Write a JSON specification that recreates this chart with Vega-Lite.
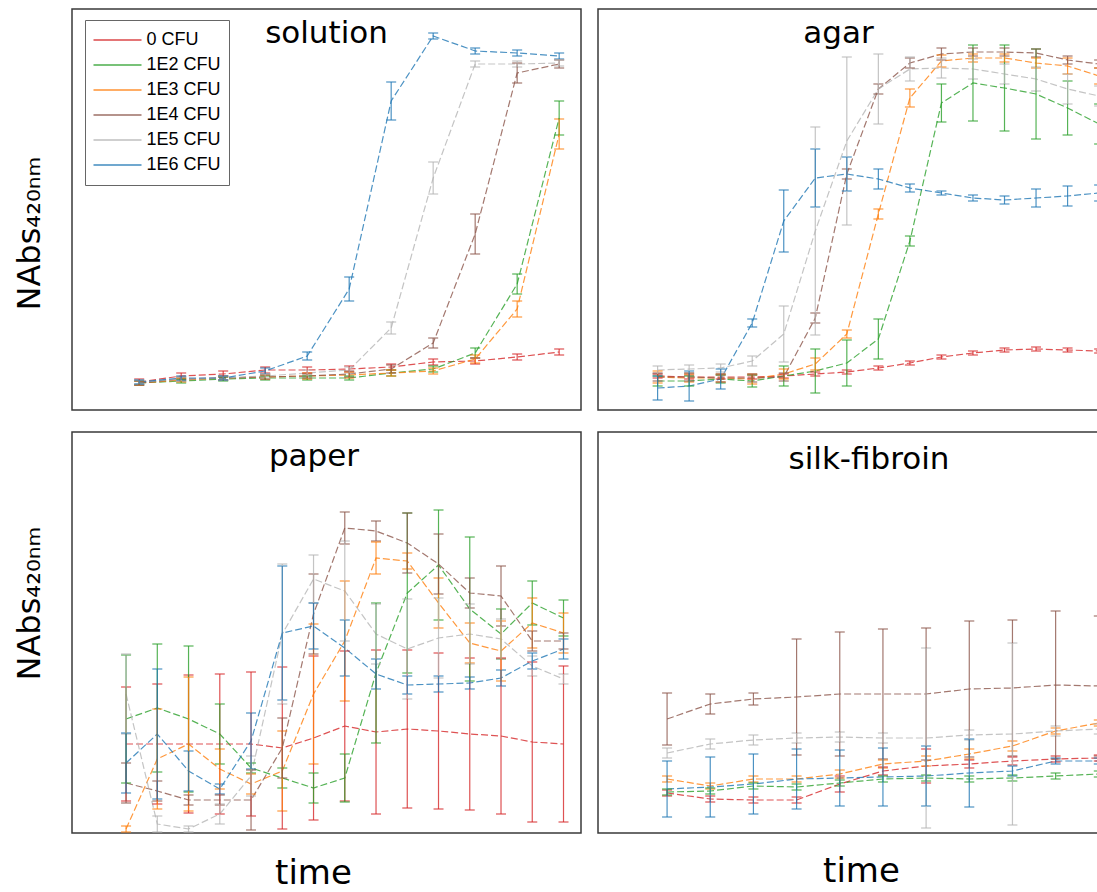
{
"$schema": "https://vega.github.io/schema/vega-lite/v6.json",
"background": "white",
"padding": {"left": 12, "top": 8, "right": 0, "bottom": 0},
"columns": 2,
"spacing": {"row": 22, "column": 17},
"bounds": "flush",
"resolve": {"scale": {"x": "independent", "y": "independent", "color": "independent"}, "axis": {"x": "independent", "y": "independent"}, "legend": {"color": "independent"}},
"data": {"values": [
{"panel":"solution","cfu":"0 CFU","t":0,"nabs":28,"err":3},{"panel":"solution","cfu":"0 CFU","t":1,"nabs":34,"err":3},{"panel":"solution","cfu":"0 CFU","t":2,"nabs":36,"err":3},{"panel":"solution","cfu":"0 CFU","t":3,"nabs":40,"err":3},{"panel":"solution","cfu":"0 CFU","t":4,"nabs":40,"err":3},{"panel":"solution","cfu":"0 CFU","t":5,"nabs":41,"err":3},{"panel":"solution","cfu":"0 CFU","t":6,"nabs":43,"err":3},{"panel":"solution","cfu":"0 CFU","t":7,"nabs":48,"err":3},{"panel":"solution","cfu":"0 CFU","t":8,"nabs":49,"err":3},{"panel":"solution","cfu":"0 CFU","t":9,"nabs":53,"err":3},{"panel":"solution","cfu":"0 CFU","t":10,"nabs":58,"err":3},
{"panel":"solution","cfu":"1E2 CFU","t":0,"nabs":27,"err":2},{"panel":"solution","cfu":"1E2 CFU","t":1,"nabs":29,"err":2},{"panel":"solution","cfu":"1E2 CFU","t":2,"nabs":31,"err":2},{"panel":"solution","cfu":"1E2 CFU","t":3,"nabs":32,"err":2},{"panel":"solution","cfu":"1E2 CFU","t":4,"nabs":32,"err":2},{"panel":"solution","cfu":"1E2 CFU","t":5,"nabs":32,"err":2},{"panel":"solution","cfu":"1E2 CFU","t":6,"nabs":37,"err":3},{"panel":"solution","cfu":"1E2 CFU","t":7,"nabs":41,"err":3},{"panel":"solution","cfu":"1E2 CFU","t":8,"nabs":57,"err":5},{"panel":"solution","cfu":"1E2 CFU","t":9,"nabs":126,"err":10},{"panel":"solution","cfu":"1E2 CFU","t":10,"nabs":292,"err":17},
{"panel":"solution","cfu":"1E3 CFU","t":0,"nabs":27,"err":2},{"panel":"solution","cfu":"1E3 CFU","t":1,"nabs":30,"err":2},{"panel":"solution","cfu":"1E3 CFU","t":2,"nabs":32,"err":2},{"panel":"solution","cfu":"1E3 CFU","t":3,"nabs":33,"err":2},{"panel":"solution","cfu":"1E3 CFU","t":4,"nabs":34,"err":3},{"panel":"solution","cfu":"1E3 CFU","t":5,"nabs":35,"err":3},{"panel":"solution","cfu":"1E3 CFU","t":6,"nabs":37,"err":3},{"panel":"solution","cfu":"1E3 CFU","t":7,"nabs":39,"err":3},{"panel":"solution","cfu":"1E3 CFU","t":8,"nabs":51,"err":4},{"panel":"solution","cfu":"1E3 CFU","t":9,"nabs":101,"err":8},{"panel":"solution","cfu":"1E3 CFU","t":10,"nabs":276,"err":15},
{"panel":"solution","cfu":"1E4 CFU","t":0,"nabs":27,"err":2},{"panel":"solution","cfu":"1E4 CFU","t":1,"nabs":31,"err":2},{"panel":"solution","cfu":"1E4 CFU","t":2,"nabs":32,"err":2},{"panel":"solution","cfu":"1E4 CFU","t":3,"nabs":33,"err":2},{"panel":"solution","cfu":"1E4 CFU","t":4,"nabs":34,"err":2},{"panel":"solution","cfu":"1E4 CFU","t":5,"nabs":36,"err":3},{"panel":"solution","cfu":"1E4 CFU","t":6,"nabs":41,"err":4},{"panel":"solution","cfu":"1E4 CFU","t":7,"nabs":67,"err":5},{"panel":"solution","cfu":"1E4 CFU","t":8,"nabs":176,"err":20},{"panel":"solution","cfu":"1E4 CFU","t":9,"nabs":337,"err":10},{"panel":"solution","cfu":"1E4 CFU","t":10,"nabs":346,"err":4},
{"panel":"solution","cfu":"1E5 CFU","t":0,"nabs":28,"err":2},{"panel":"solution","cfu":"1E5 CFU","t":1,"nabs":31,"err":2},{"panel":"solution","cfu":"1E5 CFU","t":2,"nabs":32,"err":2},{"panel":"solution","cfu":"1E5 CFU","t":3,"nabs":34,"err":2},{"panel":"solution","cfu":"1E5 CFU","t":4,"nabs":37,"err":3},{"panel":"solution","cfu":"1E5 CFU","t":5,"nabs":40,"err":3},{"panel":"solution","cfu":"1E5 CFU","t":6,"nabs":82,"err":6},{"panel":"solution","cfu":"1E5 CFU","t":7,"nabs":232,"err":16},{"panel":"solution","cfu":"1E5 CFU","t":8,"nabs":346,"err":3},{"panel":"solution","cfu":"1E5 CFU","t":9,"nabs":346,"err":3},{"panel":"solution","cfu":"1E5 CFU","t":10,"nabs":347,"err":3},
{"panel":"solution","cfu":"1E6 CFU","t":0,"nabs":28,"err":2},{"panel":"solution","cfu":"1E6 CFU","t":1,"nabs":32,"err":2},{"panel":"solution","cfu":"1E6 CFU","t":2,"nabs":32,"err":2},{"panel":"solution","cfu":"1E6 CFU","t":3,"nabs":39,"err":3},{"panel":"solution","cfu":"1E6 CFU","t":4,"nabs":54,"err":4},{"panel":"solution","cfu":"1E6 CFU","t":5,"nabs":121,"err":12},{"panel":"solution","cfu":"1E6 CFU","t":6,"nabs":309,"err":19},{"panel":"solution","cfu":"1E6 CFU","t":7,"nabs":374,"err":3},{"panel":"solution","cfu":"1E6 CFU","t":8,"nabs":359,"err":3},{"panel":"solution","cfu":"1E6 CFU","t":9,"nabs":357,"err":3},{"panel":"solution","cfu":"1E6 CFU","t":10,"nabs":354,"err":3},

{"panel":"agar","cfu":"0 CFU","t":0,"nabs":34,"err":2},{"panel":"agar","cfu":"0 CFU","t":1,"nabs":33,"err":2},{"panel":"agar","cfu":"0 CFU","t":2,"nabs":33,"err":2},{"panel":"agar","cfu":"0 CFU","t":3,"nabs":33,"err":2},{"panel":"agar","cfu":"0 CFU","t":4,"nabs":34,"err":2},{"panel":"agar","cfu":"0 CFU","t":5,"nabs":36,"err":2},{"panel":"agar","cfu":"0 CFU","t":6,"nabs":38,"err":2},{"panel":"agar","cfu":"0 CFU","t":7,"nabs":42,"err":2},{"panel":"agar","cfu":"0 CFU","t":8,"nabs":47,"err":2},{"panel":"agar","cfu":"0 CFU","t":9,"nabs":53,"err":2},{"panel":"agar","cfu":"0 CFU","t":10,"nabs":57,"err":2},{"panel":"agar","cfu":"0 CFU","t":11,"nabs":60,"err":2},{"panel":"agar","cfu":"0 CFU","t":12,"nabs":61,"err":2},{"panel":"agar","cfu":"0 CFU","t":13,"nabs":60,"err":2},{"panel":"agar","cfu":"0 CFU","t":14,"nabs":59,"err":2},
{"panel":"agar","cfu":"1E2 CFU","t":0,"nabs":29,"err":5},{"panel":"agar","cfu":"1E2 CFU","t":1,"nabs":29,"err":5},{"panel":"agar","cfu":"1E2 CFU","t":2,"nabs":31,"err":4},{"panel":"agar","cfu":"1E2 CFU","t":3,"nabs":29,"err":6},{"panel":"agar","cfu":"1E2 CFU","t":4,"nabs":34,"err":10},{"panel":"agar","cfu":"1E2 CFU","t":5,"nabs":39,"err":22},{"panel":"agar","cfu":"1E2 CFU","t":6,"nabs":47,"err":23},{"panel":"agar","cfu":"1E2 CFU","t":7,"nabs":71,"err":20},{"panel":"agar","cfu":"1E2 CFU","t":8,"nabs":169,"err":5},{"panel":"agar","cfu":"1E2 CFU","t":9,"nabs":307,"err":19},{"panel":"agar","cfu":"1E2 CFU","t":10,"nabs":327,"err":38},{"panel":"agar","cfu":"1E2 CFU","t":11,"nabs":322,"err":43},{"panel":"agar","cfu":"1E2 CFU","t":12,"nabs":316,"err":45},{"panel":"agar","cfu":"1E2 CFU","t":13,"nabs":302,"err":27},{"panel":"agar","cfu":"1E2 CFU","t":14,"nabs":286,"err":20},
{"panel":"agar","cfu":"1E3 CFU","t":0,"nabs":33,"err":6},{"panel":"agar","cfu":"1E3 CFU","t":1,"nabs":32,"err":4},{"panel":"agar","cfu":"1E3 CFU","t":2,"nabs":32,"err":4},{"panel":"agar","cfu":"1E3 CFU","t":3,"nabs":31,"err":5},{"panel":"agar","cfu":"1E3 CFU","t":4,"nabs":36,"err":5},{"panel":"agar","cfu":"1E3 CFU","t":5,"nabs":46,"err":6},{"panel":"agar","cfu":"1E3 CFU","t":6,"nabs":76,"err":4},{"panel":"agar","cfu":"1E3 CFU","t":7,"nabs":196,"err":5},{"panel":"agar","cfu":"1E3 CFU","t":8,"nabs":312,"err":9},{"panel":"agar","cfu":"1E3 CFU","t":9,"nabs":349,"err":6},{"panel":"agar","cfu":"1E3 CFU","t":10,"nabs":352,"err":4},{"panel":"agar","cfu":"1E3 CFU","t":11,"nabs":352,"err":4},{"panel":"agar","cfu":"1E3 CFU","t":12,"nabs":347,"err":5},{"panel":"agar","cfu":"1E3 CFU","t":13,"nabs":344,"err":8},{"panel":"agar","cfu":"1E3 CFU","t":14,"nabs":334,"err":8},
{"panel":"agar","cfu":"1E4 CFU","t":0,"nabs":33,"err":4},{"panel":"agar","cfu":"1E4 CFU","t":1,"nabs":33,"err":4},{"panel":"agar","cfu":"1E4 CFU","t":2,"nabs":32,"err":4},{"panel":"agar","cfu":"1E4 CFU","t":3,"nabs":32,"err":4},{"panel":"agar","cfu":"1E4 CFU","t":4,"nabs":33,"err":4},{"panel":"agar","cfu":"1E4 CFU","t":5,"nabs":92,"err":5},{"panel":"agar","cfu":"1E4 CFU","t":6,"nabs":236,"err":5},{"panel":"agar","cfu":"1E4 CFU","t":7,"nabs":321,"err":5},{"panel":"agar","cfu":"1E4 CFU","t":8,"nabs":347,"err":5},{"panel":"agar","cfu":"1E4 CFU","t":9,"nabs":356,"err":6},{"panel":"agar","cfu":"1E4 CFU","t":10,"nabs":358,"err":4},{"panel":"agar","cfu":"1E4 CFU","t":11,"nabs":358,"err":4},{"panel":"agar","cfu":"1E4 CFU","t":12,"nabs":357,"err":4},{"panel":"agar","cfu":"1E4 CFU","t":13,"nabs":350,"err":4},{"panel":"agar","cfu":"1E4 CFU","t":14,"nabs":346,"err":4},
{"panel":"agar","cfu":"1E5 CFU","t":0,"nabs":40,"err":4},{"panel":"agar","cfu":"1E5 CFU","t":1,"nabs":41,"err":4},{"panel":"agar","cfu":"1E5 CFU","t":2,"nabs":42,"err":4},{"panel":"agar","cfu":"1E5 CFU","t":3,"nabs":49,"err":5},{"panel":"agar","cfu":"1E5 CFU","t":4,"nabs":76,"err":28},{"panel":"agar","cfu":"1E5 CFU","t":5,"nabs":179,"err":104},{"panel":"agar","cfu":"1E5 CFU","t":6,"nabs":269,"err":84},{"panel":"agar","cfu":"1E5 CFU","t":7,"nabs":321,"err":35},{"panel":"agar","cfu":"1E5 CFU","t":8,"nabs":341,"err":12},{"panel":"agar","cfu":"1E5 CFU","t":9,"nabs":342,"err":10},{"panel":"agar","cfu":"1E5 CFU","t":10,"nabs":341,"err":10},{"panel":"agar","cfu":"1E5 CFU","t":11,"nabs":336,"err":10},{"panel":"agar","cfu":"1E5 CFU","t":12,"nabs":331,"err":12},{"panel":"agar","cfu":"1E5 CFU","t":13,"nabs":321,"err":15},{"panel":"agar","cfu":"1E5 CFU","t":14,"nabs":314,"err":10},
{"panel":"agar","cfu":"1E6 CFU","t":0,"nabs":22,"err":12},{"panel":"agar","cfu":"1E6 CFU","t":1,"nabs":24,"err":15},{"panel":"agar","cfu":"1E6 CFU","t":2,"nabs":31,"err":10},{"panel":"agar","cfu":"1E6 CFU","t":3,"nabs":87,"err":4},{"panel":"agar","cfu":"1E6 CFU","t":4,"nabs":189,"err":31},{"panel":"agar","cfu":"1E6 CFU","t":5,"nabs":232,"err":29},{"panel":"agar","cfu":"1E6 CFU","t":6,"nabs":236,"err":17},{"panel":"agar","cfu":"1E6 CFU","t":7,"nabs":231,"err":10},{"panel":"agar","cfu":"1E6 CFU","t":8,"nabs":222,"err":4},{"panel":"agar","cfu":"1E6 CFU","t":9,"nabs":217,"err":2},{"panel":"agar","cfu":"1E6 CFU","t":10,"nabs":212,"err":3},{"panel":"agar","cfu":"1E6 CFU","t":11,"nabs":210,"err":4},{"panel":"agar","cfu":"1E6 CFU","t":12,"nabs":212,"err":9},{"panel":"agar","cfu":"1E6 CFU","t":13,"nabs":214,"err":10},{"panel":"agar","cfu":"1E6 CFU","t":14,"nabs":217,"err":8},

{"panel":"paper","cfu":"0 CFU","t":0,"nabs":89,"err":57},{"panel":"paper","cfu":"0 CFU","t":1,"nabs":89,"err":60},{"panel":"paper","cfu":"0 CFU","t":2,"nabs":89,"err":69},{"panel":"paper","cfu":"0 CFU","t":3,"nabs":89,"err":70},{"panel":"paper","cfu":"0 CFU","t":4,"nabs":89,"err":72},{"panel":"paper","cfu":"0 CFU","t":5,"nabs":85,"err":81},{"panel":"paper","cfu":"0 CFU","t":6,"nabs":95,"err":82},{"panel":"paper","cfu":"0 CFU","t":7,"nabs":107,"err":75},{"panel":"paper","cfu":"0 CFU","t":8,"nabs":101,"err":82},{"panel":"paper","cfu":"0 CFU","t":9,"nabs":104,"err":79},{"panel":"paper","cfu":"0 CFU","t":10,"nabs":102,"err":78},{"panel":"paper","cfu":"0 CFU","t":11,"nabs":99,"err":76},{"panel":"paper","cfu":"0 CFU","t":12,"nabs":97,"err":78},{"panel":"paper","cfu":"0 CFU","t":13,"nabs":91,"err":80},{"panel":"paper","cfu":"0 CFU","t":14,"nabs":89,"err":78},
{"panel":"paper","cfu":"1E2 CFU","t":0,"nabs":114,"err":64},{"panel":"paper","cfu":"1E2 CFU","t":1,"nabs":125,"err":64},{"panel":"paper","cfu":"1E2 CFU","t":2,"nabs":114,"err":73},{"panel":"paper","cfu":"1E2 CFU","t":3,"nabs":99,"err":30},{"panel":"paper","cfu":"1E2 CFU","t":4,"nabs":65,"err":5},{"panel":"paper","cfu":"1E2 CFU","t":5,"nabs":55,"err":10},{"panel":"paper","cfu":"1E2 CFU","t":6,"nabs":45,"err":15},{"panel":"paper","cfu":"1E2 CFU","t":7,"nabs":55,"err":24},{"panel":"paper","cfu":"1E2 CFU","t":8,"nabs":160,"err":70},{"panel":"paper","cfu":"1E2 CFU","t":9,"nabs":240,"err":80},{"panel":"paper","cfu":"1E2 CFU","t":10,"nabs":268,"err":55},{"panel":"paper","cfu":"1E2 CFU","t":11,"nabs":224,"err":72},{"panel":"paper","cfu":"1E2 CFU","t":12,"nabs":199,"err":25},{"panel":"paper","cfu":"1E2 CFU","t":13,"nabs":230,"err":22},{"panel":"paper","cfu":"1E2 CFU","t":14,"nabs":215,"err":18},
{"panel":"paper","cfu":"1E3 CFU","t":0,"nabs":4,"err":3},{"panel":"paper","cfu":"1E3 CFU","t":1,"nabs":74,"err":50},{"panel":"paper","cfu":"1E3 CFU","t":2,"nabs":89,"err":67},{"panel":"paper","cfu":"1E3 CFU","t":3,"nabs":64,"err":20},{"panel":"paper","cfu":"1E3 CFU","t":4,"nabs":49,"err":10},{"panel":"paper","cfu":"1E3 CFU","t":5,"nabs":62,"err":40},{"panel":"paper","cfu":"1E3 CFU","t":6,"nabs":139,"err":70},{"panel":"paper","cfu":"1E3 CFU","t":7,"nabs":192,"err":60},{"panel":"paper","cfu":"1E3 CFU","t":8,"nabs":275,"err":16},{"panel":"paper","cfu":"1E3 CFU","t":9,"nabs":272,"err":8},{"panel":"paper","cfu":"1E3 CFU","t":10,"nabs":230,"err":25},{"panel":"paper","cfu":"1E3 CFU","t":11,"nabs":190,"err":20},{"panel":"paper","cfu":"1E3 CFU","t":12,"nabs":182,"err":30},{"panel":"paper","cfu":"1E3 CFU","t":13,"nabs":210,"err":25},{"panel":"paper","cfu":"1E3 CFU","t":14,"nabs":200,"err":20},
{"panel":"paper","cfu":"1E4 CFU","t":0,"nabs":50,"err":20},{"panel":"paper","cfu":"1E4 CFU","t":1,"nabs":42,"err":10},{"panel":"paper","cfu":"1E4 CFU","t":2,"nabs":33,"err":5},{"panel":"paper","cfu":"1E4 CFU","t":3,"nabs":33,"err":5},{"panel":"paper","cfu":"1E4 CFU","t":4,"nabs":33,"err":30},{"panel":"paper","cfu":"1E4 CFU","t":5,"nabs":85,"err":30},{"panel":"paper","cfu":"1E4 CFU","t":6,"nabs":219,"err":40},{"panel":"paper","cfu":"1E4 CFU","t":7,"nabs":305,"err":16},{"panel":"paper","cfu":"1E4 CFU","t":8,"nabs":302,"err":10},{"panel":"paper","cfu":"1E4 CFU","t":9,"nabs":290,"err":30},{"panel":"paper","cfu":"1E4 CFU","t":10,"nabs":269,"err":30},{"panel":"paper","cfu":"1E4 CFU","t":11,"nabs":240,"err":15},{"panel":"paper","cfu":"1E4 CFU","t":12,"nabs":237,"err":30},{"panel":"paper","cfu":"1E4 CFU","t":13,"nabs":192,"err":10},{"panel":"paper","cfu":"1E4 CFU","t":14,"nabs":192,"err":8},
{"panel":"paper","cfu":"1E5 CFU","t":0,"nabs":139,"err":40},{"panel":"paper","cfu":"1E5 CFU","t":1,"nabs":9,"err":8},{"panel":"paper","cfu":"1E5 CFU","t":2,"nabs":4,"err":3},{"panel":"paper","cfu":"1E5 CFU","t":3,"nabs":19,"err":10},{"panel":"paper","cfu":"1E5 CFU","t":4,"nabs":57,"err":20},{"panel":"paper","cfu":"1E5 CFU","t":5,"nabs":199,"err":70},{"panel":"paper","cfu":"1E5 CFU","t":6,"nabs":254,"err":24},{"panel":"paper","cfu":"1E5 CFU","t":7,"nabs":242,"err":50},{"panel":"paper","cfu":"1E5 CFU","t":8,"nabs":199,"err":30},{"panel":"paper","cfu":"1E5 CFU","t":9,"nabs":184,"err":50},{"panel":"paper","cfu":"1E5 CFU","t":10,"nabs":195,"err":40},{"panel":"paper","cfu":"1E5 CFU","t":11,"nabs":199,"err":30},{"panel":"paper","cfu":"1E5 CFU","t":12,"nabs":194,"err":20},{"panel":"paper","cfu":"1E5 CFU","t":13,"nabs":167,"err":10},{"panel":"paper","cfu":"1E5 CFU","t":14,"nabs":154,"err":5},
{"panel":"paper","cfu":"1E6 CFU","t":0,"nabs":70,"err":30},{"panel":"paper","cfu":"1E6 CFU","t":1,"nabs":99,"err":65},{"panel":"paper","cfu":"1E6 CFU","t":2,"nabs":62,"err":20},{"panel":"paper","cfu":"1E6 CFU","t":3,"nabs":44,"err":5},{"panel":"paper","cfu":"1E6 CFU","t":4,"nabs":92,"err":28},{"panel":"paper","cfu":"1E6 CFU","t":5,"nabs":200,"err":67},{"panel":"paper","cfu":"1E6 CFU","t":6,"nabs":207,"err":23},{"panel":"paper","cfu":"1E6 CFU","t":7,"nabs":185,"err":28},{"panel":"paper","cfu":"1E6 CFU","t":8,"nabs":159,"err":15},{"panel":"paper","cfu":"1E6 CFU","t":9,"nabs":148,"err":9},{"panel":"paper","cfu":"1E6 CFU","t":10,"nabs":149,"err":8},{"panel":"paper","cfu":"1E6 CFU","t":11,"nabs":150,"err":6},{"panel":"paper","cfu":"1E6 CFU","t":12,"nabs":155,"err":8},{"panel":"paper","cfu":"1E6 CFU","t":13,"nabs":172,"err":8},{"panel":"paper","cfu":"1E6 CFU","t":14,"nabs":184,"err":10},

{"panel":"silk","cfu":"0 CFU","t":0,"nabs":40,"err":3},{"panel":"silk","cfu":"0 CFU","t":1,"nabs":34,"err":3},{"panel":"silk","cfu":"0 CFU","t":2,"nabs":33,"err":3},{"panel":"silk","cfu":"0 CFU","t":3,"nabs":33,"err":3},{"panel":"silk","cfu":"0 CFU","t":4,"nabs":49,"err":8},{"panel":"silk","cfu":"0 CFU","t":5,"nabs":62,"err":4},{"panel":"silk","cfu":"0 CFU","t":6,"nabs":67,"err":17},{"panel":"silk","cfu":"0 CFU","t":7,"nabs":69,"err":4},{"panel":"silk","cfu":"0 CFU","t":8,"nabs":72,"err":4},{"panel":"silk","cfu":"0 CFU","t":9,"nabs":74,"err":3},{"panel":"silk","cfu":"0 CFU","t":10,"nabs":75,"err":3},
{"panel":"silk","cfu":"1E2 CFU","t":0,"nabs":41,"err":3},{"panel":"silk","cfu":"1E2 CFU","t":1,"nabs":42,"err":3},{"panel":"silk","cfu":"1E2 CFU","t":2,"nabs":47,"err":3},{"panel":"silk","cfu":"1E2 CFU","t":3,"nabs":46,"err":3},{"panel":"silk","cfu":"1E2 CFU","t":4,"nabs":50,"err":3},{"panel":"silk","cfu":"1E2 CFU","t":5,"nabs":54,"err":3},{"panel":"silk","cfu":"1E2 CFU","t":6,"nabs":55,"err":3},{"panel":"silk","cfu":"1E2 CFU","t":7,"nabs":54,"err":3},{"panel":"silk","cfu":"1E2 CFU","t":8,"nabs":55,"err":3},{"panel":"silk","cfu":"1E2 CFU","t":9,"nabs":57,"err":3},{"panel":"silk","cfu":"1E2 CFU","t":10,"nabs":59,"err":3},
{"panel":"silk","cfu":"1E3 CFU","t":0,"nabs":54,"err":3},{"panel":"silk","cfu":"1E3 CFU","t":1,"nabs":47,"err":3},{"panel":"silk","cfu":"1E3 CFU","t":2,"nabs":54,"err":3},{"panel":"silk","cfu":"1E3 CFU","t":3,"nabs":54,"err":3},{"panel":"silk","cfu":"1E3 CFU","t":4,"nabs":59,"err":4},{"panel":"silk","cfu":"1E3 CFU","t":5,"nabs":69,"err":4},{"panel":"silk","cfu":"1E3 CFU","t":6,"nabs":72,"err":5},{"panel":"silk","cfu":"1E3 CFU","t":7,"nabs":79,"err":5},{"panel":"silk","cfu":"1E3 CFU","t":8,"nabs":87,"err":5},{"panel":"silk","cfu":"1E3 CFU","t":9,"nabs":102,"err":3},{"panel":"silk","cfu":"1E3 CFU","t":10,"nabs":110,"err":3},
{"panel":"silk","cfu":"1E4 CFU","t":0,"nabs":114,"err":26},{"panel":"silk","cfu":"1E4 CFU","t":1,"nabs":129,"err":10},{"panel":"silk","cfu":"1E4 CFU","t":2,"nabs":134,"err":6},{"panel":"silk","cfu":"1E4 CFU","t":3,"nabs":136,"err":58},{"panel":"silk","cfu":"1E4 CFU","t":4,"nabs":139,"err":62},{"panel":"silk","cfu":"1E4 CFU","t":5,"nabs":139,"err":65},{"panel":"silk","cfu":"1E4 CFU","t":6,"nabs":139,"err":66},{"panel":"silk","cfu":"1E4 CFU","t":7,"nabs":144,"err":68},{"panel":"silk","cfu":"1E4 CFU","t":8,"nabs":145,"err":68},{"panel":"silk","cfu":"1E4 CFU","t":9,"nabs":148,"err":74},{"panel":"silk","cfu":"1E4 CFU","t":10,"nabs":147,"err":70},
{"panel":"silk","cfu":"1E5 CFU","t":0,"nabs":80,"err":5},{"panel":"silk","cfu":"1E5 CFU","t":1,"nabs":89,"err":5},{"panel":"silk","cfu":"1E5 CFU","t":2,"nabs":93,"err":5},{"panel":"silk","cfu":"1E5 CFU","t":3,"nabs":95,"err":5},{"panel":"silk","cfu":"1E5 CFU","t":4,"nabs":96,"err":5},{"panel":"silk","cfu":"1E5 CFU","t":5,"nabs":95,"err":5},{"panel":"silk","cfu":"1E5 CFU","t":6,"nabs":95,"err":90},{"panel":"silk","cfu":"1E5 CFU","t":7,"nabs":98,"err":5},{"panel":"silk","cfu":"1E5 CFU","t":8,"nabs":99,"err":91},{"panel":"silk","cfu":"1E5 CFU","t":9,"nabs":102,"err":5},{"panel":"silk","cfu":"1E5 CFU","t":10,"nabs":104,"err":5},
{"panel":"silk","cfu":"1E6 CFU","t":0,"nabs":44,"err":28},{"panel":"silk","cfu":"1E6 CFU","t":1,"nabs":46,"err":30},{"panel":"silk","cfu":"1E6 CFU","t":2,"nabs":49,"err":30},{"panel":"silk","cfu":"1E6 CFU","t":3,"nabs":54,"err":30},{"panel":"silk","cfu":"1E6 CFU","t":4,"nabs":55,"err":28},{"panel":"silk","cfu":"1E6 CFU","t":5,"nabs":56,"err":29},{"panel":"silk","cfu":"1E6 CFU","t":6,"nabs":57,"err":30},{"panel":"silk","cfu":"1E6 CFU","t":7,"nabs":60,"err":34},{"panel":"silk","cfu":"1E6 CFU","t":8,"nabs":62,"err":5},{"panel":"silk","cfu":"1E6 CFU","t":9,"nabs":72,"err":3},{"panel":"silk","cfu":"1E6 CFU","t":10,"nabs":72,"err":3}
]},
"concat": [
{
 "width": 509, "height": 401,
 "title": {"text": "solution", "dx": 0, "offset": -41},
 "transform": [{"filter": "datum.panel === 'solution'"}],
 "encoding": {
  "x": {"field": "t", "type": "quantitative", "scale": {"domain": [-1.6, 10.52], "nice": false, "zero": false}, "axis": null},
  "y": {"field": "nabs", "type": "quantitative", "scale": {"domain": [0, 401], "nice": false, "zero": false},
        "axis": {"title": "NAbs₄₂₀ₙₘ", "titleFontSize": 32, "titleAngle": 270, "titleAlign": "left", "titleBaseline": "alphabetic", "titleX": -33, "titleY": 301}},
  "color": {"field": "cfu", "type": "nominal",
    "scale": {"domain": ["0 CFU","1E2 CFU","1E3 CFU","1E4 CFU","1E5 CFU","1E6 CFU"], "range": ["#d62728","#2ca02c","#ff7f0e","#8c564b","#b5b5b5","#1f77b4"]},
    "legend": {"orient": "none", "legendX": 13, "legendY": 11, "title": null, "symbolType": "stroke", "symbolSize": 2304, "symbolStrokeWidth": 1.5, "symbolDash": [], "symbolOpacity": 0.85, "labelFont": "Liberation Sans", "labelFontSize": 18, "labelColor": "black", "labelOffset": 4, "strokeColor": "#666666", "fillColor": "white", "padding": 7.5, "clipHeight": 25, "rowPadding": 0}}
 },
 "layer": [
  {"mark": {"type": "line", "strokeWidth": 1.2, "opacity": 0.8, "strokeDash": [7, 3], "clip": true}},
  {"mark": {"type": "errorbar", "ticks": true, "size": 10, "thickness": 1.2, "opacity": 0.8, "clip": true}, "encoding": {"yError": {"field": "err"}}}
 ]
},
{
 "width": 509, "height": 401,
 "title": {"text": "agar", "dx": -14, "offset": -41},
 "transform": [{"filter": "datum.panel === 'agar'"}],
 "encoding": {
  "x": {"field": "t", "type": "quantitative", "scale": {"domain": [-1.89, 14.25], "nice": false, "zero": false}, "axis": null},
  "y": {"field": "nabs", "type": "quantitative", "scale": {"domain": [0, 401], "nice": false, "zero": false}, "axis": null},
  "color": {"field": "cfu", "type": "nominal",
    "scale": {"domain": ["0 CFU","1E2 CFU","1E3 CFU","1E4 CFU","1E5 CFU","1E6 CFU"], "range": ["#d62728","#2ca02c","#ff7f0e","#8c564b","#b5b5b5","#1f77b4"]}, "legend": null}
 },
 "layer": [
  {"mark": {"type": "line", "strokeWidth": 1.2, "opacity": 0.8, "strokeDash": [7, 3], "clip": true}},
  {"mark": {"type": "errorbar", "ticks": true, "size": 10, "thickness": 1.2, "opacity": 0.8, "clip": true}, "encoding": {"yError": {"field": "err"}}}
 ]
},
{
 "width": 509, "height": 401,
 "title": {"text": "paper", "dx": -12.5, "offset": -41},
 "transform": [{"filter": "datum.panel === 'paper'"}],
 "encoding": {
  "x": {"field": "t", "type": "quantitative", "scale": {"domain": [-1.73, 14.56], "nice": false, "zero": false},
        "axis": {"title": "time", "titleFontSize": 34, "titleX": 241, "titleY": 50, "titleBaseline": "alphabetic", "titleAlign": "center", "titleAngle": 0}},
  "y": {"field": "nabs", "type": "quantitative", "scale": {"domain": [0, 401], "nice": false, "zero": false},
        "axis": {"title": "NAbs₄₂₀ₙₘ", "titleFontSize": 32, "titleAngle": 270, "titleAlign": "left", "titleBaseline": "alphabetic", "titleX": -33, "titleY": 248}},
  "color": {"field": "cfu", "type": "nominal",
    "scale": {"domain": ["0 CFU","1E2 CFU","1E3 CFU","1E4 CFU","1E5 CFU","1E6 CFU"], "range": ["#d62728","#2ca02c","#ff7f0e","#8c564b","#b5b5b5","#1f77b4"]}, "legend": null}
 },
 "layer": [
  {"mark": {"type": "line", "strokeWidth": 1.2, "opacity": 0.8, "strokeDash": [7, 3], "clip": true}},
  {"mark": {"type": "errorbar", "ticks": true, "size": 10, "thickness": 1.2, "opacity": 0.8, "clip": true}, "encoding": {"yError": {"field": "err"}}}
 ]
},
{
 "width": 509, "height": 401,
 "title": {"text": "silk-fibroin", "dx": 16.5, "offset": -44},
 "transform": [{"filter": "datum.panel === 'silk'"}],
 "encoding": {
  "x": {"field": "t", "type": "quantitative", "scale": {"domain": [-1.6, 10.19], "nice": false, "zero": false},
        "axis": {"title": "time", "titleFontSize": 34, "titleX": 263, "titleY": 48, "titleBaseline": "alphabetic", "titleAlign": "center", "titleAngle": 0}},
  "y": {"field": "nabs", "type": "quantitative", "scale": {"domain": [0, 401], "nice": false, "zero": false}, "axis": null},
  "color": {"field": "cfu", "type": "nominal",
    "scale": {"domain": ["0 CFU","1E2 CFU","1E3 CFU","1E4 CFU","1E5 CFU","1E6 CFU"], "range": ["#d62728","#2ca02c","#ff7f0e","#8c564b","#b5b5b5","#1f77b4"]}, "legend": null}
 },
 "layer": [
  {"mark": {"type": "line", "strokeWidth": 1.2, "opacity": 0.8, "strokeDash": [7, 3], "clip": true}},
  {"mark": {"type": "errorbar", "ticks": true, "size": 10, "thickness": 1.2, "opacity": 0.8, "clip": true}, "encoding": {"yError": {"field": "err"}}}
 ]
}
],
"config": {
 "view": {"stroke": "#3a3a3a", "strokeWidth": 1.5},
 "axis": {"labels": false, "ticks": false, "domain": false, "grid": false, "titleFont": "DejaVu Sans", "titleFontWeight": "normal", "titleColor": "black"},
 "title": {"font": "DejaVu Sans", "fontWeight": "normal", "color": "black", "fontSize": 31, "anchor": "middle", "baseline": "alphabetic", "frame": "group"}
}
}
